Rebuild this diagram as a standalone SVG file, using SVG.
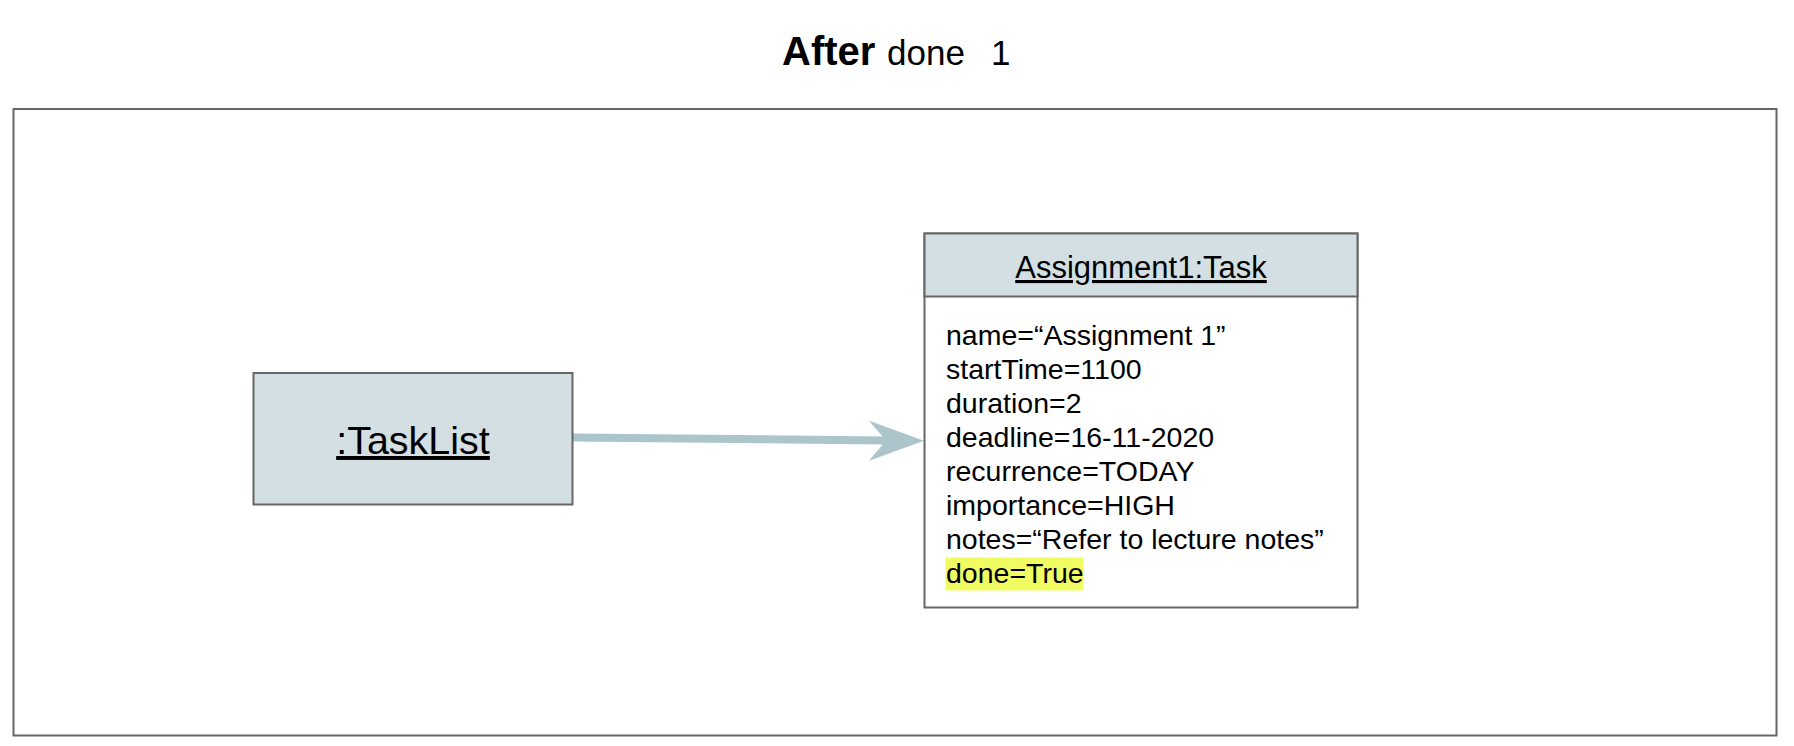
<svg xmlns="http://www.w3.org/2000/svg" width="1794" height="746" viewBox="0 0 1794 746">
  <style>
    text { font-family: "Liberation Sans", Arial, sans-serif; fill: #000; }
    .box { stroke: #666666; stroke-width: 2; }
    .head { fill: #d3dfe3; }
    .attr { font-size: 28.5px; }
    .u { text-decoration: underline; }
  </style>
  <rect width="1794" height="746" fill="#ffffff"/>
  <g id="title">
    <text x="782" y="65" font-size="40" font-weight="bold">After</text>
    <text x="887" y="65" font-size="35">done</text>
    <text x="991" y="65" font-size="35">1</text>
  </g>
  <rect id="frame" x="13.5" y="109" width="1763" height="626.5" fill="none" class="box"/>
  <g id="connectors">
    <line x1="573" y1="437.5" x2="888" y2="440.5" stroke="#abc5ca" stroke-width="8"/>
    <polygon points="869,420.7 924,440.7 869,460.7 886,440.5" fill="#abc5ca"/>
  </g>
  <g id="tasklist">
    <rect x="253.5" y="373" width="319" height="131.5" class="box head"/>
    <text x="413" y="454" font-size="39.5" text-anchor="middle" class="u">:TaskList</text>
  </g>
  <g id="task">
    <rect x="924.5" y="233.5" width="433" height="374" class="box" fill="#ffffff"/>
    <rect x="924.5" y="233.5" width="433" height="63" class="box head"/>
    <text x="1141" y="278" font-size="31" text-anchor="middle" class="u">Assignment1:Task</text>
    <rect x="945.5" y="557.5" width="138" height="33" fill="#f1fb62"/>
    <text x="946" y="344.5" class="attr">name=“Assignment 1”</text>
    <text x="946" y="378.6" class="attr">startTime=1100</text>
    <text x="946" y="412.7" class="attr">duration=2</text>
    <text x="946" y="446.8" class="attr">deadline=16-11-2020</text>
    <text x="946" y="480.9" class="attr">recurrence=TODAY</text>
    <text x="946" y="515" class="attr">importance=HIGH</text>
    <text x="946" y="549.1" class="attr">notes=“Refer to lecture notes”</text>
    <text x="946" y="583.2" class="attr">done=True</text>
  </g>
</svg>
